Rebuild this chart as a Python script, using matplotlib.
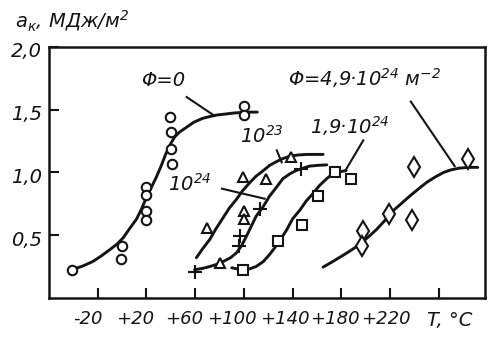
import matplotlib
matplotlib.use('Agg')
import matplotlib.pyplot as plt
from matplotlib.transforms import ScaledTranslation

plt.rcParams['font.family'] = ['DejaVu Sans']
plt.rcParams['mathtext.default'] = 'regular'

ink = '#141414'

# measured points, T (°C) and a_k (MJ/m2)
t_f0 = [-41, 0, -1, 20, 20, 20, 20, 39, 40, 40, 41, 100, 100]
a_f0 = [0.225, 0.41, 0.31, 0.88, 0.82, 0.69, 0.62, 1.44, 1.32, 1.19, 1.07, 1.53, 1.46]

t_f23 = [70, 80, 99, 100, 100, 118, 139]
a_f23 = [0.56, 0.28, 0.96, 0.69, 0.63, 0.95, 1.12]

t_f24 = [60, 97, 96, 113, 147]
a_f24 = [0.21, 0.49, 0.41, 0.71, 1.03]

t_f19 = [99, 128, 148, 161, 175, 188]
a_f19 = [0.225, 0.45, 0.58, 0.81, 1.0, 0.95]

t_f49 = [198, 197, 219, 240, 238, 284]
a_f49 = [0.53, 0.41, 0.67, 1.04, 0.62, 1.11]

# hand drawn trend curves
ct_f0 = [-41, -32, -24, -17, -10, -4, 1, 6, 12, 16, 20, 24, 28, 32, 36, 40, 43,
         47, 53, 59, 66, 72, 77, 85, 92, 99, 105, 111]
ca_f0 = [0.225, 0.255, 0.29, 0.335, 0.385, 0.43, 0.48, 0.55, 0.63, 0.71, 0.80,
         0.88, 0.96, 1.05, 1.15, 1.23, 1.28, 1.32, 1.36, 1.40, 1.43, 1.445,
         1.456, 1.465, 1.473, 1.478, 1.48, 1.48]

ct_f23 = [61, 66, 72, 77, 83, 88, 94, 99, 105, 110, 116, 121, 127, 132, 138,
          144, 151, 158, 165]
ca_f23 = [0.32, 0.39, 0.466, 0.55, 0.64, 0.715, 0.787, 0.855, 0.92, 0.97,
          1.015, 1.055, 1.087, 1.11, 1.13, 1.138, 1.143, 1.143, 1.143]

ct_f24 = [59.5, 66, 72, 78, 83, 89, 94, 98, 102, 106, 110, 116, 121, 127, 132,
          138, 143, 149, 154, 161, 168]
ca_f24 = [0.225, 0.235, 0.25, 0.268, 0.29, 0.32, 0.36, 0.415, 0.49, 0.57,
          0.65, 0.73, 0.81, 0.885, 0.95, 0.99, 1.015, 1.035, 1.05, 1.056, 1.06]

ct_f19 = [90, 95, 99, 105, 110, 116, 121, 125, 129, 135, 140, 146, 151, 157,
          162, 168, 173, 179, 184]
ca_f19 = [0.24, 0.23, 0.225, 0.232, 0.25, 0.29, 0.345, 0.395, 0.45, 0.54,
          0.63, 0.70, 0.77, 0.835, 0.895, 0.95, 0.99, 1.005, 1.015]

ct_f49 = [165, 173, 181, 188, 195, 202, 209, 216, 222, 229, 236, 243, 250, 257,
          264, 270, 277, 285, 292]
ca_f49 = [0.245, 0.29, 0.337, 0.38, 0.425, 0.485, 0.546, 0.62, 0.69, 0.75,
          0.81, 0.866, 0.92, 0.963, 1.0, 1.02, 1.034, 1.04, 1.04]

xticks = [-20, 20, 60, 100, 140, 180, 220, 260]
xlabels = ['-20', '+20', '+60', '+100', '+140', '+180', '+220', '']
yticks = [0.5, 1.0, 1.5, 2.0]
ylabels = ['0,5', '1,0', '1,5', '2,0']

fig = plt.figure(figsize=(4.95, 3.37), dpi=100)
ax = fig.add_axes([0.099, 0.116, 0.881, 0.745])

lw = 2.1
for ct, ca in [(ct_f0, ca_f0), (ct_f23, ca_f23), (ct_f24, ca_f24),
               (ct_f19, ca_f19), (ct_f49, ca_f49)]:
    ax.plot(ct, ca, color=ink, lw=lw, solid_capstyle='round',
            solid_joinstyle='round', zorder=2)

mk = dict(linestyle='none', mfc='white', mec=ink, mew=1.5, zorder=3)
ax.plot(t_f0, a_f0, 'o', ms=6.8, **mk)
ax.plot(t_f23, a_f23, '^', ms=7.5, **mk)
ax.plot(t_f24, a_f24, '+', ms=10, color=ink, mew=1.5, linestyle='none', zorder=3)
ax.plot(t_f19, a_f19, 's', ms=6.5, **mk)
ax.plot(t_f49, a_f49, 'd', ms=10, **mk)

# leader lines
leaders = [((53, 1.60), (76, 1.45)),
           ((237, 1.564), (273, 1.05)),
           ((198, 1.255), (183, 1.01)),
           ((127, 1.175), (131, 1.08)),
           ((82, 0.87), (117, 0.79))]
for p, q in leaders:
    ax.plot([p[0], q[0]], [p[1], q[1]], color=ink, lw=1.5, zorder=2)

tf = dict(color=ink, fontsize=14, fontstyle='italic', va='center')
ax.text(34, 1.73, 'Φ=0', ha='center', **tf)
ax.text(136, 1.75, 'Φ=4,9·10$^{24}$ м$^{-2}$', ha='left', **tf)
ax.text(154, 1.37, '1,9·10$^{24}$', ha='left', **tf)
ax.text(97, 1.29, '10$^{23}$', ha='left', **tf)
ax.text(38, 0.91, '10$^{24}$', ha='left', **tf)

ax.set_xlim(-60, 298)
ax.set_ylim(0, 2.0)
ax.set_xticks(xticks)
ax.set_xticklabels(xlabels)
ax.set_yticks(yticks)
ax.set_yticklabels(ylabels)
ax.tick_params(direction='in', length=7.5, width=1.5, colors=ink,
               labelsize=14, pad=5)
ax.tick_params(axis='x', pad=9, labelsize=13)
# labels in the scan sit a little left of their ticks
shift_px = [-10, -11, -11, -12, -8, -6, -4, 0]
for lab, dx in zip(ax.get_xticklabels(), shift_px):
    lab.set_fontstyle('italic')
    lab.set_transform(lab.get_transform()
                      + ScaledTranslation(dx / 100, 0, fig.dpi_scale_trans))
sy = ScaledTranslation(0, -3 / 100, fig.dpi_scale_trans)
for lab in ax.get_yticklabels():
    lab.set_fontstyle('italic')
    lab.set_transform(lab.get_transform() + sy)
for s in ax.spines.values():
    s.set_linewidth(1.8)
    s.set_color(ink)

fig.text(450 / 495, 1 - 321 / 337, 'T, °C', ha='center', va='center',
         color=ink, fontsize=14, fontstyle='italic')
fig.text(15 / 495, 1 - 21 / 337, '$a_{к}$, МДж/м$^{2}$', ha='left', va='center',
         color=ink, fontsize=14, fontstyle='italic')

fig.savefig('out.png', dpi=100)
